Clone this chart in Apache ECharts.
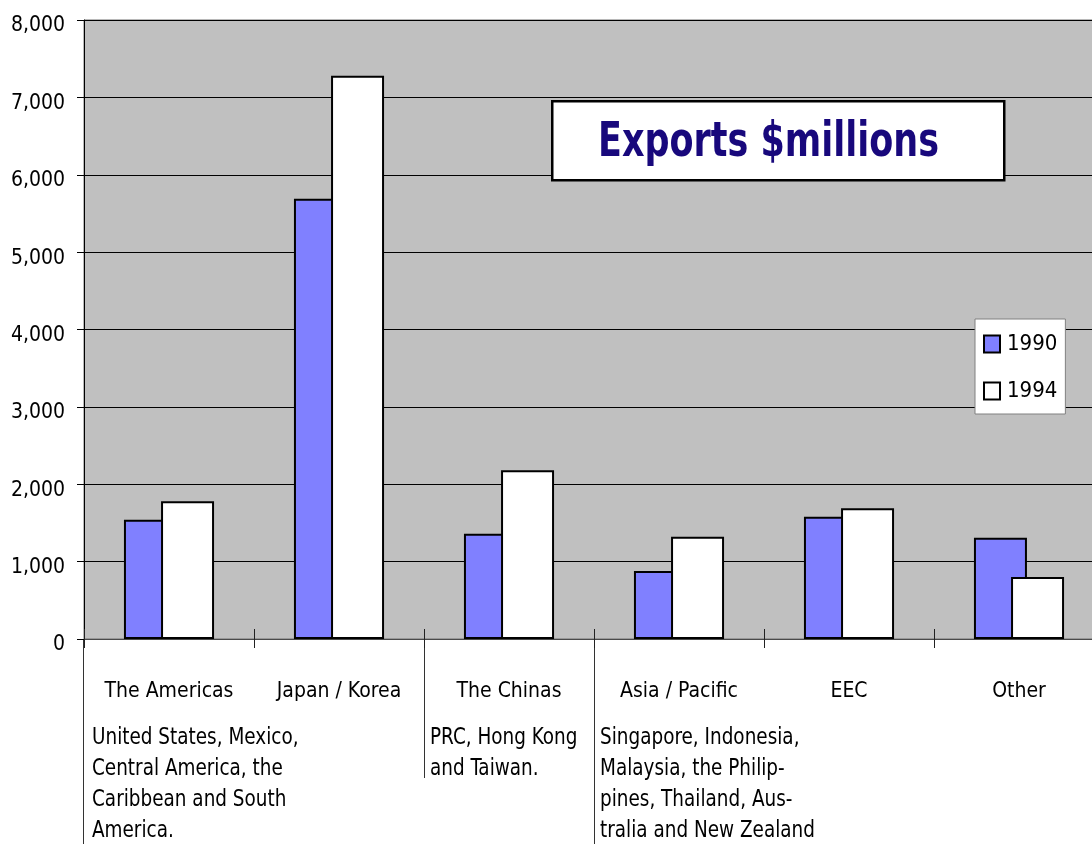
<!DOCTYPE html>
<html>
	<head>
		<meta charset="utf-8" />
		<title>Exports $millions</title>
		<script src="https://cdn.jsdelivr.net/npm/echarts@6/dist/echarts.min.js"></script>
		<style>
			html, body{
				margin: 0;
				padding: 0;
				background: #ffffff;
				overflow: hidden;
			}
			/* plot runs past the right edge of the window, as in the original */
			#dvchart{
				width: 1110px;
				height: 844px;
			}
		</style>
	</head>
	<body>
		<div id="dvchart"></div>
		<script>
			// data
			var regions = ['The Americas', 'Japan / Korea', 'The Chinas', 'Asia / Pacific', 'EEC', 'Other'];
			var exports1990 = [1540, 5690, 1360, 880, 1580, 1310];
			var exports1994 = [1780, 7280, 2180, 1320, 1690, 800];
			var seriesNames = ['1990', '1994'];
			var notes = [
				'United States, Mexico,\nCentral America, the\nCaribbean and South\nAmerica.',
				'PRC, Hong Kong\nand Taiwan.',
				'Singapore, Indonesia,\nMalaysia, the Philip-\npines, Thailand, Aus-\ntralia and New Zealand'
			];

			var narrow = "'DejaVu Sans Condensed', 'Liberation Sans Narrow', 'Liberation Sans', sans-serif";

			var chart1 = echarts.init(document.getElementById('dvchart'));
			var option1 = {
				animation: false,
				textStyle: {fontFamily: narrow},
				grid: {
					left: 84,
					top: 20,
					width: 1020,
					height: 619,
					show: true,
					backgroundColor: '#c0c0c0',
					borderColor: '#707070',
					borderWidth: 1
				},
				legend: {
					orient: 'vertical',
					left: 975,
					top: 319,
					data: seriesNames,
					backgroundColor: '#ffffff',
					borderColor: '#808080',
					borderWidth: 1,
					padding: [14, 8, 12, 8],
					itemWidth: 16,
					itemHeight: 17,
					itemGap: 25,
					icon: 'rect',
					textStyle: {fontFamily: narrow, fontSize: 22, color: '#000', padding: [6, 0, 0, 2]}
				},
				xAxis: [{
					type: 'category',
					data: regions,
					axisLine: {lineStyle: {color: '#4a4a4a', width: 1}},
					axisTick: {show: true, length: 9, lineStyle: {color: '#222', width: 1}},
					axisLabel: {interval: 0, margin: 42, fontSize: 21, color: '#000', fontFamily: narrow}
				}, {
					type: 'category',
					data: regions,
					position: 'bottom',
					axisLine: {show: false},
					axisTick: {show: true, inside: true, length: 10, lineStyle: {color: '#222', width: 1}},
					axisLabel: {show: false}
				}],
				yAxis: {
					type: 'value',
					min: 0,
					max: 8000,
					interval: 1000,
					axisLine: {show: true, lineStyle: {color: '#000', width: 1}},
					axisTick: {show: true, length: 7, lineStyle: {color: '#000'}},
					axisLabel: {
						margin: 19,
						fontSize: 21,
						color: '#000',
						fontFamily: narrow,
						verticalAlign: 'top',
						lineHeight: 12,
						formatter: function(v){ return v.toLocaleString('en-US'); }
					},
					splitLine: {lineStyle: {color: '#000', width: 1}}
				},
				series: [{
					name: seriesNames[0],
					type: 'bar',
					data: exports1990,
					barWidth: 53,
					barGap: '-30%',
					itemStyle: {color: '#8080ff', borderColor: '#000', borderWidth: 2}
				}, {
					name: seriesNames[1],
					type: 'bar',
					data: exports1994,
					barWidth: 53,
					barGap: '-30%',
					itemStyle: {color: '#ffffff', borderColor: '#000', borderWidth: 2}
				}],
				graphic: [
					// title box
					{type: 'rect', left: 551, top: 100, shape: {width: 452, height: 79},
						style: {fill: '#fff', stroke: '#000', lineWidth: 2.5}, z: 10},
					{type: 'text', x: 598, y: 144, scaleX: 0.81, z: 11,
						style: {text: 'Exports $millions', fill: '#18087c', font: 'bold 48px ' + narrow, verticalAlign: 'middle'}},
					// note box borders
					{type: 'line', shape: {x1: 83.5, y1: 639, x2: 83.5, y2: 844}, style: {stroke: '#333', lineWidth: 1}},
					{type: 'line', shape: {x1: 424.5, y1: 639, x2: 424.5, y2: 778}, style: {stroke: '#333', lineWidth: 1}},
					{type: 'line', shape: {x1: 594.5, y1: 639, x2: 594.5, y2: 844}, style: {stroke: '#333', lineWidth: 1}},
					// notes
					{type: 'text', x: 92, y: 723, scaleX: 0.89,
						style: {text: notes[0], fill: '#000', font: '23px ' + narrow, lineHeight: 31}},
					{type: 'text', x: 430, y: 723, scaleX: 0.89,
						style: {text: notes[1], fill: '#000', font: '23px ' + narrow, lineHeight: 31}},
					{type: 'text', x: 600, y: 723, scaleX: 0.89,
						style: {text: notes[2], fill: '#000', font: '23px ' + narrow, lineHeight: 31}}
				]
			};
			chart1.setOption(option1);
		</script>
	</body>
</html>
